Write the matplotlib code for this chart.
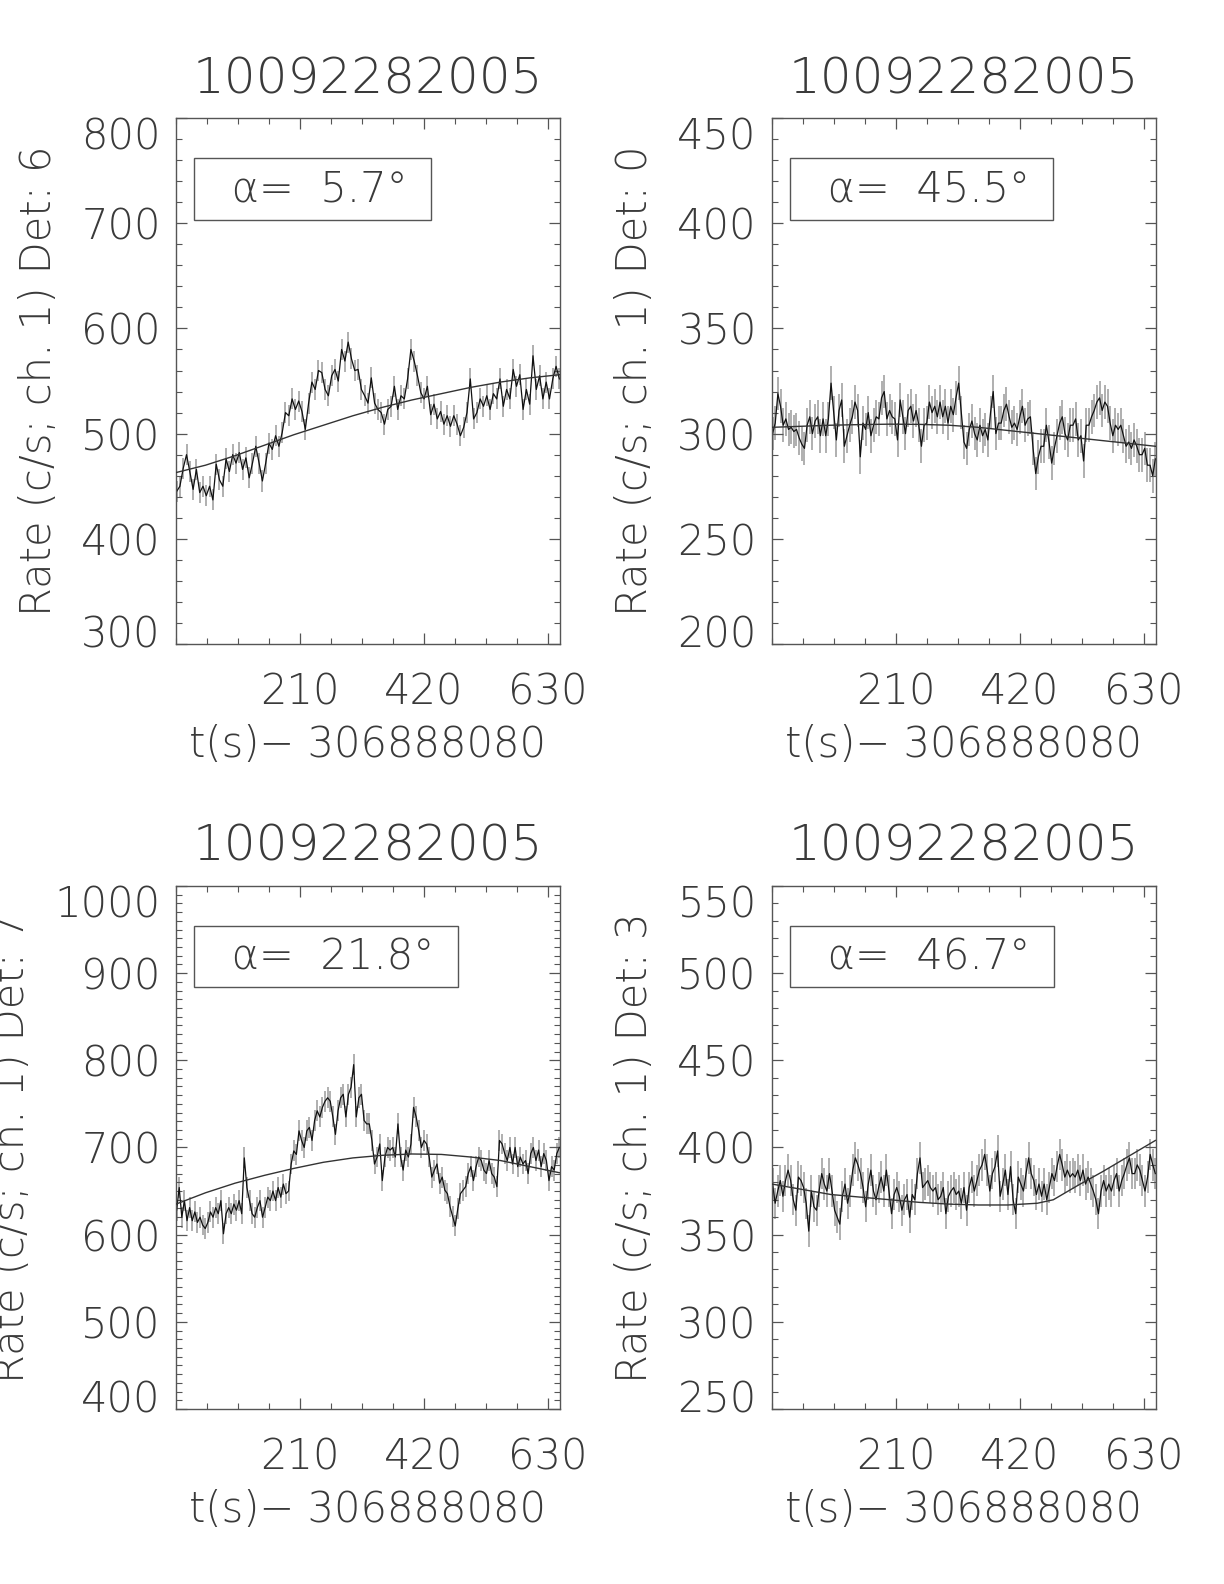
import numpy as np
import matplotlib
matplotlib.use('Agg')
import matplotlib.pyplot as plt
import matplotlib.transforms as mtransforms
from matplotlib.ticker import FixedLocator, MultipleLocator, NullFormatter

plt.rcParams['font.family'] = ['DejaVu Sans']
plt.rcParams['font.weight'] = 'light'
plt.rcParams['axes.titleweight'] = 'light'
plt.rcParams['axes.labelweight'] = 'light'

# light curves (rate, c/s), evenly spaced over 0..650 s
rate_det6 = [445, 450, 467, 480, 464, 447, 466, 444, 450, 441, 450, 437, 471, 456, 450, 476, 464, 480,
             472, 482, 466, 477, 458, 472, 488, 472, 455, 472, 491, 485, 498, 488, 501, 520, 517, 533,
             523, 531, 521, 504, 529, 549, 542, 560, 558, 542, 536, 555, 561, 550, 580, 569, 587, 571,
             560, 561, 542, 536, 529, 553, 529, 523, 520, 509, 523, 526, 545, 523, 536, 533, 552, 580,
             569, 555, 539, 533, 545, 518, 528, 514, 521, 509, 517, 507, 517, 509, 498, 506, 520, 552,
             514, 520, 533, 526, 536, 523, 538, 533, 552, 526, 542, 533, 561, 545, 556, 523, 542, 528,
             574, 542, 555, 533, 549, 533, 552, 564, 552]
rate_det0 = [300, 305, 319, 313, 304, 307, 302, 303, 301, 302, 298, 295, 293, 304, 308, 300, 306, 308,
             299, 307, 299, 307, 324, 310, 297, 311, 316, 294, 299, 304, 308, 315, 311, 289, 305, 302,
             310, 299, 304, 308, 307, 317, 320, 307, 311, 308, 307, 297, 316, 308, 300, 311, 313, 306,
             311, 304, 294, 304, 305, 315, 310, 313, 308, 315, 308, 313, 305, 313, 309, 317, 324, 310,
             296, 293, 302, 306, 300, 297, 304, 299, 302, 297, 310, 320, 300, 305, 305, 311, 314, 308,
             303, 305, 302, 308, 313, 304, 307, 308, 293, 281, 289, 294, 294, 304, 296, 286, 293, 299,
             305, 308, 300, 297, 304, 304, 307, 297, 299, 287, 304, 304, 308, 311, 315, 317, 311, 315,
             313, 305, 299, 304, 302, 304, 299, 294, 296, 293, 297, 294, 290, 290, 293, 285, 285, 280,
             288]
rate_det7 = [628, 654, 620, 639, 616, 631, 616, 626, 614, 620, 611, 607, 614, 626, 620, 631, 624, 639,
             601, 624, 631, 624, 635, 628, 639, 624, 688, 654, 639, 624, 620, 631, 639, 620, 631, 643,
             639, 650, 639, 654, 643, 658, 647, 650, 681, 696, 692,
             719, 708, 700, 719, 723, 708, 731, 742, 735, 746, 753, 757, 753, 735, 715, 742, 757, 761,
             735, 761, 769, 795, 735, 757, 761, 731, 727, 727, 708, 681, 689, 704, 662, 689, 700, 697,
             700, 689, 727, 689, 674, 697, 689, 704, 746, 735, 719, 700, 708, 704, 689, 666, 674, 681,
             659, 666, 651, 647, 632, 621, 610, 630, 647, 651, 655, 670, 678, 662, 678, 689, 685, 674,
             670, 685, 670, 666, 655, 708, 704, 693, 685, 700, 681, 700, 678, 689, 681, 685, 670, 693,
             700, 685, 697, 678, 693, 685, 662, 678, 674, 693, 700]
rate_det3 = [379, 368, 375, 381, 372, 381, 387, 381, 370, 364, 383, 381, 377, 368, 352, 375, 366, 364,
             375, 385, 379, 375, 385, 375, 364, 360, 356, 372, 379, 368, 375, 387, 394, 390, 385, 377,
             366, 379, 387, 375, 370, 377, 383, 375, 387, 375, 362, 373, 377, 372, 364, 370, 373, 360,
             373, 370, 385, 394, 377, 379, 381, 377, 375, 377, 370, 372, 377, 362, 372, 375, 377, 373,
             375, 368, 377, 364, 377, 383, 375, 381, 387, 390, 396, 387, 375, 385, 389, 398, 372, 379,
             387, 373, 389, 370, 362, 383, 379, 375, 385, 394, 385, 381, 373, 379, 372, 379, 370, 377,
             385, 381, 389, 396, 390, 383, 387, 383, 385, 383, 387, 381, 387, 379, 383, 379, 375, 370,
             362, 375, 381, 375, 379, 375, 381, 385, 375, 381, 385, 390, 394, 385, 385, 390, 387, 381,
             375, 383, 396, 390, 385]

# fitted background curves
fit_t = [0, 50, 100, 150, 200, 250, 300, 350, 400, 450, 500, 550, 600, 650]
fit_det6 = [463, 470, 479, 489, 499, 508, 517, 525, 532, 538, 544, 549, 553, 556]
fit_det0 = [303, 303.5, 304, 304.3, 304.5, 304.4, 304, 303, 301.5, 300, 298.5, 297, 295.5, 294]
fit_det7 = [635, 648, 659, 668, 676, 683, 688, 691, 692.5, 692, 689, 685, 678, 671]
fit_det3_t = [0, 50, 100, 150, 200, 250, 300, 350, 400, 450, 477, 520, 560, 600, 650]
fit_det3 = [379, 376, 373, 371.5, 370, 368.5, 367.5, 367, 367, 368, 370, 378.5, 386, 394, 404]

err_bars = [10, 8, 12, 9]
detectors = [6, 0, 7, 3]
angles = ['5.7', '45.5', '21.8', '46.7']
ylims = [(300, 800), (200, 450), (400, 1000), (250, 550)]
ymajor = [100, 50, 100, 50]
yminor = [20, 10, 10, 10]

TXT = '#3a3a3a'
AX = '#555555'

fig = plt.figure(figsize=(12.24, 15.84), dpi=100)
positions = [[0.1438, 0.5934, 0.3137, 0.3321], [0.6307, 0.5934, 0.3137, 0.3321],
             [0.1438, 0.1105, 0.3137, 0.3302], [0.6307, 0.1105, 0.3137, 0.3302]]
rates = [rate_det6, rate_det0, rate_det7, rate_det3]
fits = [(fit_t, fit_det6), (fit_t, fit_det0), (fit_t, fit_det7), (fit_det3_t, fit_det3)]

for k in range(4):
    ax = fig.add_axes(positions[k])
    r = np.array(rates[k], dtype=float)
    t = np.linspace(1, 650, len(r))
    ax.vlines(t, r - err_bars[k], r + err_bars[k], color='#9a9a9a', lw=1.1, zorder=1)
    ax.plot(t, r, color='#111111', lw=0.9, zorder=2)
    ax.plot(fits[k][0], fits[k][1], color='#333333', lw=1.0, zorder=3)

    lo, hi = ylims[k]
    ax.set_xlim(0, 651)
    ax.set_ylim(lo, hi)
    ax.xaxis.set_major_locator(FixedLocator([210, 420, 630]))
    ax.xaxis.set_minor_locator(MultipleLocator(52.5))
    ax.yaxis.set_major_locator(FixedLocator(list(range(lo, hi + 1, ymajor[k]))))
    ax.yaxis.set_minor_locator(MultipleLocator(yminor[k]))
    ax.xaxis.set_minor_formatter(NullFormatter())

    for s in ax.spines.values():
        s.set_color(AX)
        s.set_linewidth(1.0)
    ax.tick_params(which='both', direction='in', top=True, right=True, colors=AX, labelcolor=TXT)
    ax.tick_params(which='major', length=8, width=0.9)
    ax.tick_params(which='minor', length=4, width=0.8)
    ax.tick_params(axis='x', labelsize=30, pad=20)
    ax.tick_params(axis='y', labelsize=30, pad=11)

    ax.set_title('10092282005', fontsize=36, pad=18, color=TXT)
    ax.set_xlabel('t(s)\u2212 306888080', fontsize=30, color=TXT, labelpad=8)
    ax.set_ylabel('Rate (c/s; ch. 1) Det: %d' % detectors[k], fontsize=30, color=TXT, labelpad=16)

    ax.text(0.075, 0.865, '  \u03b1=  %s\u00b0 ' % angles[k], transform=ax.transAxes,
            fontsize=30, color=TXT, ha='left', va='center',
            bbox=dict(boxstyle='square,pad=0.25', fc='white', ec=AX, lw=1.0))

    # pull the end labels of the y axis inwards, like the original
    yt = ax.yaxis.get_major_ticks()
    yt[0].label1.set_transform(yt[0].label1.get_transform() +
                               mtransforms.ScaledTranslation(0, 0.13, fig.dpi_scale_trans))
    yt[-1].label1.set_transform(yt[-1].label1.get_transform() +
                                mtransforms.ScaledTranslation(0, -0.15, fig.dpi_scale_trans))

fig.savefig('out.png', dpi=100)
